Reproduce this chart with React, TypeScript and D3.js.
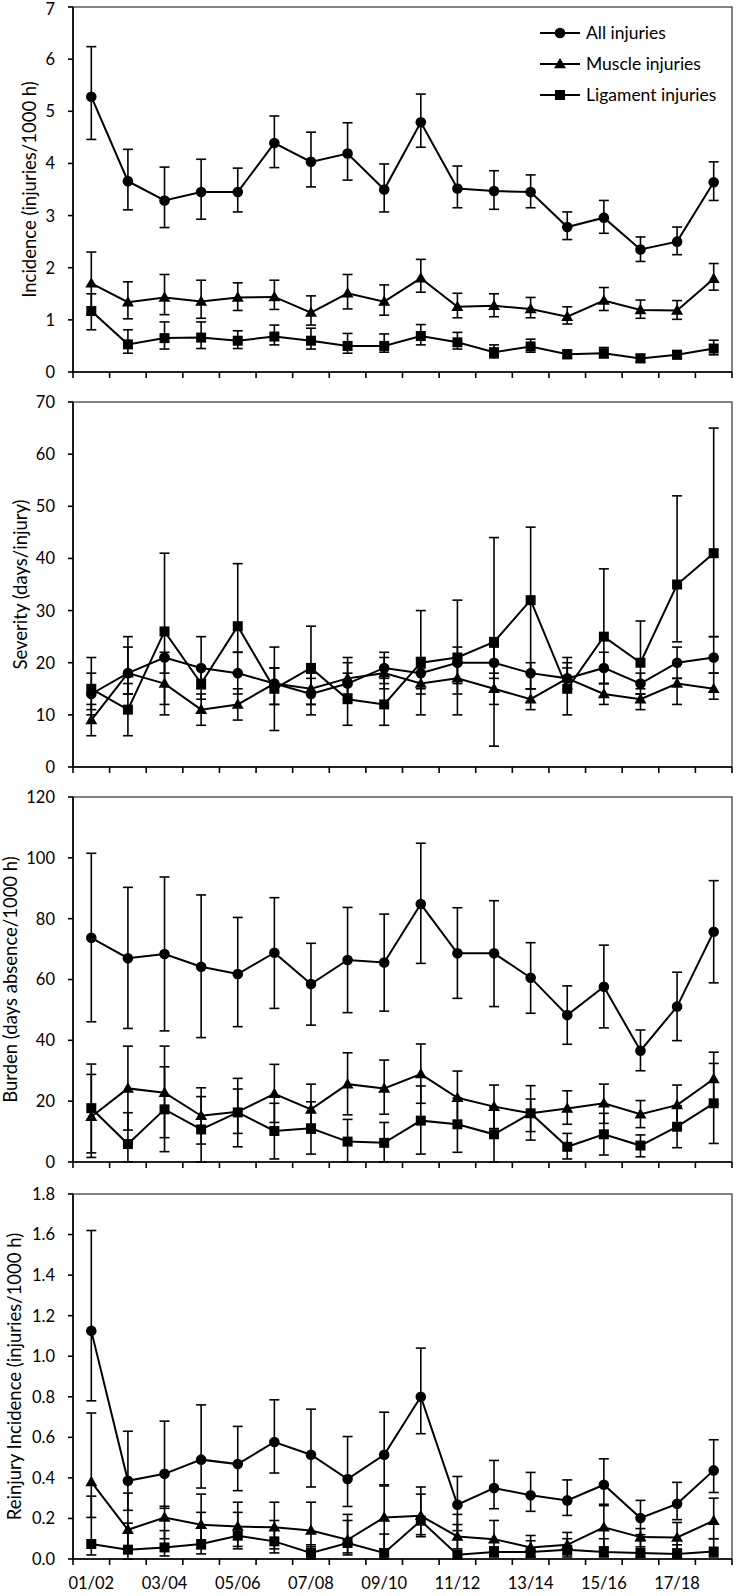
import React from "react";
import * as d3 from "d3";

const seasons = ["01/02","02/03","03/04","04/05","05/06","06/07","07/08","08/09","09/10","10/11","11/12","12/13","13/14","14/15","15/16","16/17","17/18","18/19"];
const seriesNames = ["All injuries", "Muscle injuries", "Ligament injuries"];

// Panel 1: Incidence
const incAll = [5.28,3.66,3.29,3.45,3.45,4.39,4.03,4.19,3.50,4.79,3.52,3.47,3.45,2.78,2.96,2.35,2.50,3.64];
const incAllLo = [4.46,3.11,2.77,2.93,3.07,3.92,3.55,3.68,3.07,4.31,3.15,3.12,3.15,2.54,2.66,2.12,2.25,3.29];
const incAllHi = [6.24,4.27,3.93,4.08,3.91,4.91,4.60,4.78,3.99,5.33,3.95,3.86,3.78,3.07,3.29,2.59,2.78,4.03];
const incMus = [1.70,1.34,1.43,1.35,1.43,1.44,1.14,1.51,1.35,1.80,1.25,1.27,1.21,1.06,1.37,1.19,1.18,1.79];
const incMusLo = [1.10,1.02,1.10,1.03,1.18,1.20,0.90,1.21,1.09,1.53,1.04,1.06,1.04,0.92,1.18,1.03,1.01,1.57];
const incMusHi = [2.30,1.73,1.87,1.76,1.71,1.76,1.46,1.87,1.67,2.16,1.51,1.50,1.43,1.25,1.62,1.38,1.37,2.08];
const incLig = [1.17,0.53,0.65,0.66,0.60,0.68,0.60,0.50,0.50,0.69,0.57,0.38,0.49,0.34,0.36,0.26,0.33,0.45];
const incLigLo = [0.81,0.36,0.44,0.45,0.45,0.52,0.44,0.36,0.38,0.52,0.44,0.27,0.38,0.26,0.27,0.19,0.26,0.33];
const incLigHi = [1.50,0.81,0.96,0.96,0.79,0.90,0.84,0.74,0.73,0.91,0.76,0.52,0.63,0.42,0.47,0.34,0.41,0.61];
const incTicks = [0,1,2,3,4,5,6,7];

// Panel 2: Severity
const sevAll = [14,18,21,19,18,16,14,16,19,18,20,20,18,17,19,16,20,21];
const sevAllLo = [11,14,18,15,14,12,10,13,16,15,16,17,15,15,16,14,17,18];
const sevAllHi = [18,23,22,25,22,19,18,21,22,21,23,23,20,20,22,18,23,25];
const sevMus = [9,18,16,11,12,16,15,17,18,16,17,15,13,17,14,13,16,15];
const sevMusLo = [6,14,10,8,9,12,12,14,15,10,10,12,11,15,12,11,12,13];
const sevMusHi = [12,25,21,14,15,19,17,20,21,19,21,18,15,19,16,14,17,18];
const sevLig = [15,11,26,16,27,15,19,13,12,20,21,24,32,15,25,20,35,41];
const sevLigLo = [10,6,12,13,22,7,12,8,8,14,14,4,15,10,16,15,24,25];
const sevLigHi = [21,16,41,19,39,23,27,18,17,30,32,44,46,21,38,28,52,65];
const sevTicks = [0,10,20,30,40,50,60,70];

// Panel 3: Burden
const burAll = [73.7,67.0,68.4,64.2,61.8,68.8,58.5,66.4,65.6,84.8,68.6,68.6,60.6,48.3,57.6,36.6,51.1,75.7];
const burAllLo = [46.1,43.9,43.1,40.9,44.5,50.5,45.0,49.1,49.6,65.3,53.8,51.1,48.9,38.7,44.1,30.0,39.9,58.9];
const burAllHi = [101.5,90.3,93.7,87.8,80.4,86.9,71.9,83.7,81.5,104.8,83.6,85.9,72.1,57.9,71.3,43.4,62.4,92.5];
const burMus = [14.9,24.2,22.8,15.2,16.5,22.4,17.3,25.6,24.2,28.9,21.1,18.2,16.0,17.6,19.3,15.7,18.7,27.3];
const burMusLo = [1.5,10.5,8.0,5.9,9.4,13.0,9.5,15.5,15.7,19.3,12.5,11.0,10.0,12.4,12.7,11.3,12.0,19.0];
const burMusHi = [28.8,38.1,38.1,24.4,24.0,32.1,25.6,35.9,33.5,38.8,29.9,25.3,25.1,23.4,25.6,20.2,25.3,36.1];
const burLig = [17.7,5.9,17.3,10.7,16.3,10.2,11.1,6.7,6.3,13.6,12.4,9.1,16.0,5.0,9.1,5.4,11.6,19.3];
const burLigLo = [3.0,0,3.4,0,5.0,1.0,2.6,0,0,2.6,3.2,0,7.2,1.0,2.3,1.7,4.7,6.1];
const burLigHi = [32.2,16.2,31.3,21.5,27.5,19.3,19.8,14.0,13.0,25.0,21.0,18.0,20.7,9.4,16.0,8.9,18.5,32.4];
const burTicks = [0,20,40,60,80,100,120];

// Panel 4: Reinjury incidence
const reAll = [1.125,0.386,0.42,0.49,0.468,0.577,0.514,0.394,0.514,0.80,0.268,0.35,0.314,0.289,0.366,0.202,0.272,0.437];
const reAllLo = [0.78,0.24,0.25,0.35,0.337,0.424,0.355,0.259,0.366,0.618,0.14,0.248,0.235,0.215,0.263,0.12,0.194,0.328];
const reAllHi = [1.62,0.63,0.68,0.76,0.654,0.785,0.739,0.604,0.724,1.04,0.407,0.486,0.427,0.39,0.494,0.289,0.378,0.588];
const reMus = [0.38,0.144,0.205,0.169,0.16,0.156,0.141,0.095,0.205,0.213,0.111,0.098,0.057,0.07,0.156,0.108,0.106,0.189];
const reMusLo = [0.205,0.05,0.1,0.05,0.05,0.05,0.06,0.02,0.05,0.12,0.05,0.03,0.01,0.01,0.06,0.06,0.05,0.1];
const reMusHi = [0.72,0.325,0.26,0.32,0.28,0.28,0.28,0.22,0.36,0.32,0.22,0.19,0.116,0.131,0.27,0.15,0.18,0.30];
const reLig = [0.074,0.046,0.057,0.074,0.115,0.087,0.03,0.079,0.03,0.189,0.021,0.034,0.034,0.046,0.034,0.03,0.025,0.037];
const reLigLo = [0.02,0.0,0.015,0.025,0.062,0.03,0.0,0.03,0.0,0.11,0.0,0.01,0.01,0.02,0.01,0.01,0.01,0.01];
const reLigHi = [0.31,0.177,0.14,0.23,0.23,0.19,0.07,0.19,0.123,0.355,0.17,0.06,0.09,0.1,0.1,0.09,0.07,0.1];
const reTicks = [0,0.2,0.4,0.6,0.8,1.0,1.2,1.4,1.6,1.8];

const W = 736, H = 1596;
const LEFT = 73, RIGHT = 732;
const FONT = "Lato, 'Open Sans', sans-serif";

const panels = [
  { title: "Incidence (injuries/1000 h)", top: 7, bottom: 372, max: 7, ticks: incTicks, fmt: (v: number) => String(v), titleX: 29.5,
    series: [[incAll, incAllLo, incAllHi],[incMus, incMusLo, incMusHi],[incLig, incLigLo, incLigHi]], legend: true },
  { title: "Severity (days/injury)", top: 402, bottom: 767, max: 70, ticks: sevTicks, fmt: (v: number) => String(v), titleX: 20,
    series: [[sevAll, sevAllLo, sevAllHi],[sevMus, sevMusLo, sevMusHi],[sevLig, sevLigLo, sevLigHi]] },
  { title: "Burden (days absence/1000 h)", top: 797, bottom: 1162, max: 120, ticks: burTicks, fmt: (v: number) => String(v), titleX: 10.5,
    series: [[burAll, burAllLo, burAllHi],[burMus, burMusLo, burMusHi],[burLig, burLigLo, burLigHi]] },
  { title: "Reinjury Incidence (injuries/1000 h)", top: 1194, bottom: 1559, max: 1.8, ticks: reTicks, fmt: (v: number) => d3.format(".1f")(v), titleX: 14.5,
    series: [[reAll, reAllLo, reAllHi],[reMus, reMusLo, reMusHi],[reLig, reLigLo, reLigHi]], xLabels: true },
];

const x = d3.scaleBand<string>().domain(seasons).range([LEFT, RIGHT]).padding(0);
const cx = (s: string) => (x(s) as number) + x.bandwidth() / 2;

function Marker({ kind, px, py }: { kind: number; px: number; py: number }) {
  if (kind === 0) return <circle cx={px} cy={py} r={5.3} fill="#000" />;
  if (kind === 1) {
    const p = d3.symbol().type(d3.symbolTriangle).size(62)();
    return <path d={p || ""} transform={`translate(${px},${py + 0.8})`} fill="#000" />;
  }
  return <rect x={px - 5} y={py - 5} width={10} height={10} fill="#000" />;
}

function Panel({ p }: { p: any }) {
  const y = d3.scaleLinear().domain([0, p.max]).range([p.bottom, p.top]);
  const line = d3.line<number>().x((_, i) => cx(seasons[i])).y((v) => y(v));
  const tickXs = [...seasons.map((s) => x(s) as number), RIGHT];
  const midY = (p.top + p.bottom) / 2;
  return (
    <g>
      <rect x={LEFT} y={p.top} width={RIGHT - LEFT} height={p.bottom - p.top} fill="none" stroke="#333" strokeWidth={1.2} />
      <line x1={LEFT} x2={LEFT} y1={p.top} y2={p.bottom} stroke="#000" strokeWidth={1.6} />
      <line x1={LEFT} x2={RIGHT} y1={p.bottom} y2={p.bottom} stroke="#000" strokeWidth={1.6} />
      {p.ticks.map((t: number) => (
        <g key={t}>
          <line x1={LEFT - 5} x2={LEFT} y1={y(t)} y2={y(t)} stroke="#000" strokeWidth={1.6} />
          <text x={55} y={Math.max(y(t), 9)} dy="0.36em" textAnchor="end" fontFamily={FONT} fontSize={16.5} fill="#000">{p.fmt(t)}</text>
        </g>
      ))}
      {tickXs.map((tx, i) => (
        <line key={i} x1={tx} x2={tx} y1={p.bottom} y2={p.bottom + 6} stroke="#000" strokeWidth={1.6} />
      ))}
      {p.xLabels && seasons.map((s, i) => i % 2 === 0 ? (
        <text key={s} x={cx(s)} y={p.bottom + 24} dy="0.36em" textAnchor="middle" fontFamily={FONT} fontSize={16.5} fill="#000">{s}</text>
      ) : null)}
      <text transform={`translate(${p.titleX},${midY}) rotate(-90)`} textAnchor="middle" dy="0.36em" fontFamily={FONT} fontSize={18.5} fill="#000">{p.title}</text>
      {p.series.map((ser: number[][], k: number) => (
        <g key={"e" + k}>
          {ser[0].map((_, i) => {
            const px = cx(seasons[i]);
            const lo = y(ser[1][i]), hi = y(ser[2][i]);
            return (
              <g key={i} stroke="#000" strokeWidth={1.6}>
                <line x1={px} x2={px} y1={lo} y2={hi} />
                <line x1={px - 5} x2={px + 5} y1={lo} y2={lo} />
                <line x1={px - 5} x2={px + 5} y1={hi} y2={hi} />
              </g>
            );
          })}
        </g>
      ))}
      {p.series.map((ser: number[][], k: number) => (
        <path key={"l" + k} d={line(ser[0]) || ""} fill="none" stroke="#000" strokeWidth={2} />
      ))}
      {p.series.map((ser: number[][], k: number) => (
        <g key={"m" + k}>
          {ser[0].map((v, i) => <Marker key={i} kind={k} px={cx(seasons[i])} py={y(v)} />)}
        </g>
      ))}
      {p.legend && seriesNames.map((n, k) => {
        const ly = 33 + k * 31;
        return (
          <g key={n}>
            <line x1={540} x2={580} y1={ly} y2={ly} stroke="#000" strokeWidth={2} />
            <Marker kind={k} px={560} py={ly} />
            <text x={586} y={ly} dy="0.36em" fontFamily={FONT} fontSize={17.5} fill="#000">{n}</text>
          </g>
        );
      })}
    </g>
  );
}

export default function App() {
  return (
    <svg width={W} height={H} style={{ position: "absolute", left: 0, top: 0, background: "#fff" }}>
      <rect x={0} y={0} width={W} height={H} fill="#fff" />
      {panels.map((p, i) => <Panel key={i} p={p} />)}
    </svg>
  );
}
